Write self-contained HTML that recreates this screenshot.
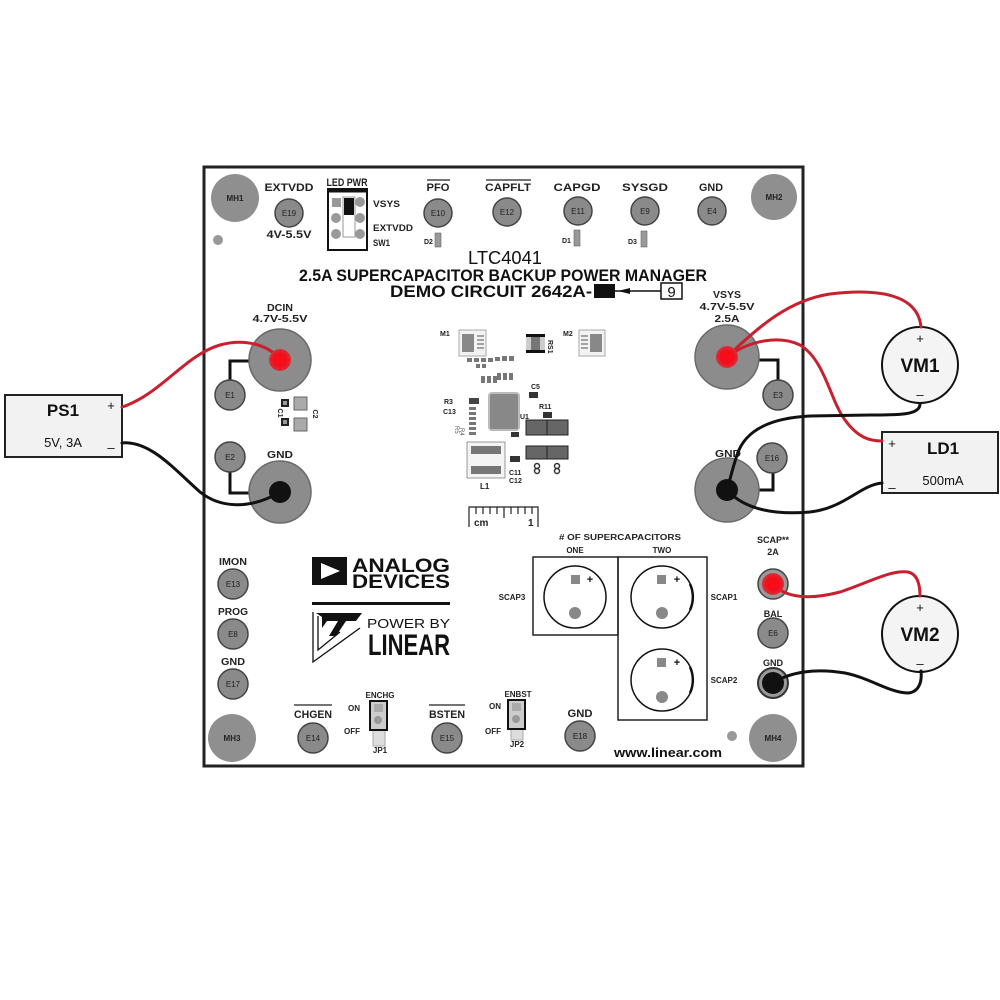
<!DOCTYPE html>
<html><head><meta charset="utf-8"><style>html,body{margin:0;padding:0;background:#fff}svg{display:block}</style></head>
<body>
<svg width="1000" height="1000" viewBox="0 0 1000 1000" xmlns="http://www.w3.org/2000/svg" font-family="'Liberation Sans', Arial, sans-serif">
<defs>
<radialGradient id="rg" cx="50%" cy="50%" r="50%"><stop offset="0" stop-color="#ff0a14"/><stop offset="0.6" stop-color="#f0101c"/><stop offset="1" stop-color="#d8303a"/></radialGradient>
</defs>
<rect width="1000" height="1000" fill="#fff"/>
<!-- board -->
<rect x="204" y="167" width="599" height="599" fill="#fff" stroke="#222" stroke-width="3"/>

<!-- mounting holes -->
<g fill="#8f8f8f">
<circle cx="235" cy="198" r="24"/><circle cx="774" cy="197" r="23"/>
<circle cx="232" cy="738" r="24"/><circle cx="773" cy="738" r="24"/>
<circle cx="218" cy="240" r="5" fill="#999"/><circle cx="732" cy="736" r="5" fill="#999"/>
</g>
<g font-size="8" font-weight="bold" fill="#222" text-anchor="middle">
<text x="235" y="201">MH1</text><text x="774" y="200">MH2</text>
<text x="232" y="741">MH3</text><text x="773" y="741">MH4</text>
</g>

<!-- top pads -->
<g fill="#8a8a8a" stroke="#444" stroke-width="1.5">
<circle cx="289" cy="213" r="14"/><circle cx="438" cy="213" r="14"/><circle cx="507" cy="212" r="14"/>
<circle cx="578" cy="211" r="14"/><circle cx="645" cy="211" r="14"/><circle cx="712" cy="211" r="14"/>
</g>
<g font-size="8" fill="#222" text-anchor="middle">
<text x="289" y="216">E19</text><text x="438" y="216">E10</text><text x="507" y="215">E12</text>
<text x="578" y="214">E11</text><text x="645" y="214">E9</text><text x="712" y="214">E4</text>
</g>
<g font-size="11" font-weight="bold" fill="#222" text-anchor="middle" lengthAdjust="spacingAndGlyphs">
<text x="289" y="191" textLength="49" lengthAdjust="spacingAndGlyphs">EXTVDD</text>
<text x="289" y="238" textLength="45" lengthAdjust="spacingAndGlyphs">4V-5.5V</text>
<text x="347" y="186" textLength="41" lengthAdjust="spacingAndGlyphs">LED PWR</text>
<text x="438" y="191" textLength="23" lengthAdjust="spacingAndGlyphs">PFO</text>
<text x="508" y="191" textLength="46" lengthAdjust="spacingAndGlyphs">CAPFLT</text>
<text x="577" y="191" textLength="47" lengthAdjust="spacingAndGlyphs">CAPGD</text>
<text x="645" y="191" textLength="46" lengthAdjust="spacingAndGlyphs">SYSGD</text>
<text x="711" y="191" textLength="24" lengthAdjust="spacingAndGlyphs">GND</text>
</g>
<line x1="427" y1="180" x2="450" y2="180" stroke="#222" stroke-width="1.2"/>
<line x1="486" y1="180" x2="531" y2="180" stroke="#222" stroke-width="1.2"/>
<!-- SW1 -->
<rect x="328" y="189" width="39" height="61" fill="#fff" stroke="#111" stroke-width="2"/>
<line x1="328" y1="191" x2="367" y2="191" stroke="#111" stroke-width="3"/>
<g fill="#999">
<rect x="332" y="198" width="9" height="9"/><circle cx="360" cy="202" r="5"/>
<circle cx="336" cy="218" r="5"/><circle cx="360" cy="218" r="5"/>
<circle cx="336" cy="234" r="5"/><circle cx="360" cy="234" r="5"/>
</g>
<rect x="343" y="197" width="12" height="40" fill="#fff" stroke="#999" stroke-width="1"/>
<rect x="344" y="198" width="10" height="17" fill="#111"/>
<g font-size="9" font-weight="bold" fill="#222">
<text x="373" y="207" textLength="27" lengthAdjust="spacingAndGlyphs">VSYS</text>
<text x="373" y="231" textLength="40" lengthAdjust="spacingAndGlyphs">EXTVDD</text>
<text x="373" y="246" textLength="17" lengthAdjust="spacingAndGlyphs">SW1</text>
<text x="424" y="244" font-size="7">D2</text>
<text x="562" y="243" font-size="7">D1</text>
<text x="628" y="244" font-size="7">D3</text>
</g>
<g fill="#999" stroke="#666" stroke-width="0.6">
<rect x="435" y="233" width="6" height="14"/><rect x="574" y="230" width="6" height="16"/><rect x="641" y="231" width="6" height="16"/>
</g>

<!-- title -->
<g font-weight="bold" fill="#111" text-anchor="middle" font-size="17">
<text x="505" y="264" textLength="74" lengthAdjust="spacingAndGlyphs" font-weight="normal" font-size="18">LTC4041</text>
<text x="503" y="281" textLength="408" lengthAdjust="spacingAndGlyphs">2.5A SUPERCAPACITOR BACKUP POWER MANAGER</text>
<text x="491" y="297" textLength="202" lengthAdjust="spacingAndGlyphs">DEMO CIRCUIT 2642A-</text>
</g>
<rect x="594" y="284" width="21" height="14" fill="#111"/>
<line x1="615" y1="291" x2="661" y2="291" stroke="#111" stroke-width="1.5"/>
<polygon points="618,291 630,288 630,294" fill="#111"/>
<rect x="661" y="283" width="21" height="16" fill="#fff" stroke="#111" stroke-width="1.5"/>
<text x="671.5" y="297" font-size="15" text-anchor="middle" fill="#111">9</text>

<!-- DCIN / left GND -->
<g font-size="10" font-weight="bold" fill="#222" text-anchor="middle">
<text x="280" y="311" textLength="26" lengthAdjust="spacingAndGlyphs">DCIN</text>
<text x="280" y="322" textLength="55" lengthAdjust="spacingAndGlyphs">4.7V-5.5V</text>
<text x="280" y="458" textLength="26" lengthAdjust="spacingAndGlyphs">GND</text>
<text x="727" y="298" textLength="28" lengthAdjust="spacingAndGlyphs">VSYS</text>
<text x="727" y="310" textLength="55" lengthAdjust="spacingAndGlyphs">4.7V-5.5V</text>
<text x="727" y="322" textLength="25" lengthAdjust="spacingAndGlyphs">2.5A</text>
<text x="728" y="457" textLength="26" lengthAdjust="spacingAndGlyphs">GND</text>
</g>
<g fill="none" stroke="#111" stroke-width="3">
<path d="M230,381 V361 H252"/><path d="M230,472 V493 H252"/>
<path d="M757,360 H778 V381"/><path d="M759,490 H773 V473"/>
</g>
<g fill="#8c8c8c" stroke="#6a6a6a" stroke-width="1.5">
<circle cx="280" cy="360" r="31"/><circle cx="280" cy="492" r="31"/>
<circle cx="727" cy="357" r="32"/><circle cx="727" cy="490" r="32"/>
</g>
<g fill="#8a8a8a" stroke="#444" stroke-width="1.5">
<circle cx="230" cy="395" r="15"/><circle cx="230" cy="457" r="15"/>
<circle cx="778" cy="395" r="15"/><circle cx="772" cy="458" r="15"/>
</g>
<g font-size="8" fill="#222" text-anchor="middle">
<text x="230" y="398">E1</text><text x="230" y="460">E2</text><text x="778" y="398">E3</text><text x="772" y="461">E16</text>
</g>
<!-- C1 C2 -->
<g>
<rect x="281" y="399" width="8" height="8" fill="#222"/><rect x="283" y="401" width="4" height="4" fill="#999"/>
<rect x="281" y="418" width="8" height="8" fill="#222"/><rect x="283" y="420" width="4" height="4" fill="#999"/>
<rect x="294" y="397" width="13" height="13" fill="#aaa" stroke="#666" stroke-width="1"/>
<rect x="294" y="418" width="13" height="13" fill="#aaa" stroke="#666" stroke-width="1"/>
<text x="278" y="413" font-size="7" font-weight="bold" fill="#222" transform="rotate(90 278 413)" text-anchor="middle">C1</text>
<text x="313" y="414" font-size="7" font-weight="bold" fill="#222" transform="rotate(90 313 414)" text-anchor="middle">C2</text>
</g>

<!-- center components -->
<g font-size="7" font-weight="bold" fill="#222">
<text x="440" y="336">M1</text><text x="563" y="336">M2</text>
<text x="444" y="404">R3</text><text x="443" y="414">C13</text>
<text x="520" y="419">U1</text><text x="539" y="409">R11</text>
<text x="531" y="389">C5</text>
<text x="509" y="475">C11</text><text x="509" y="483">C12</text>
<text x="480" y="489" font-size="8">L1</text>
<text x="548" y="340" transform="rotate(90 548 340)">RS1</text>
</g>
<g>
<rect x="459" y="330" width="27" height="26" fill="#f2f2f2" stroke="#aaa"/>
<rect x="462" y="334" width="12" height="18" fill="#888"/>
<g stroke="#888" stroke-width="1.5"><line x1="477" y1="336" x2="484" y2="336"/><line x1="477" y1="340" x2="484" y2="340"/><line x1="477" y1="344" x2="484" y2="344"/><line x1="477" y1="348" x2="484" y2="348"/></g>
<rect x="579" y="330" width="26" height="26" fill="#f2f2f2" stroke="#aaa"/>
<rect x="590" y="334" width="12" height="18" fill="#888"/>
<g stroke="#888" stroke-width="1.5"><line x1="581" y1="336" x2="588" y2="336"/><line x1="581" y1="340" x2="588" y2="340"/><line x1="581" y1="344" x2="588" y2="344"/><line x1="581" y1="348" x2="588" y2="348"/></g>
<rect x="526" y="334" width="19" height="19" fill="#ccc"/>
<rect x="526" y="334" width="19" height="3" fill="#111"/><rect x="526" y="350" width="19" height="3" fill="#111"/>
<rect x="531" y="337" width="9" height="13" fill="#777"/>
<g fill="#777"><rect x="467" y="358" width="5" height="4"/><rect x="474" y="358" width="5" height="4"/><rect x="481" y="358" width="5" height="4"/><rect x="488" y="358" width="5" height="4"/><rect x="495" y="357" width="5" height="4"/><rect x="502" y="356" width="5" height="5"/><rect x="509" y="356" width="5" height="5"/>
<rect x="476" y="364" width="4" height="4"/><rect x="482" y="364" width="4" height="4"/>
<rect x="481" y="376" width="4" height="7"/><rect x="487" y="376" width="4" height="7"/><rect x="493" y="376" width="4" height="7"/>
<rect x="497" y="373" width="4" height="7"/><rect x="503" y="373" width="4" height="7"/><rect x="509" y="373" width="4" height="7"/>
<rect x="469" y="398" width="10" height="6" fill="#444"/>
<rect x="469" y="407" width="7" height="3"/><rect x="469" y="412" width="7" height="3"/><rect x="469" y="417" width="7" height="3"/><rect x="469" y="422" width="7" height="3"/><rect x="469" y="427" width="7" height="3"/><rect x="469" y="432" width="7" height="3"/>
</g>
<g font-size="6" fill="#555"><text x="455" y="426" transform="rotate(90 455 426)">R5</text><text x="460" y="428" transform="rotate(90 460 428)">R4</text></g>
<rect x="489" y="393" width="30" height="37" rx="3" fill="#888" stroke="#bbb" stroke-width="2"/>
<rect x="529" y="392" width="9" height="6" fill="#333"/>
<rect x="543" y="412" width="9" height="6" fill="#333"/>
<rect x="511" y="432" width="8" height="5" fill="#333"/>
<rect x="510" y="456" width="10" height="6" fill="#333"/>
<rect x="526" y="420" width="21" height="15" fill="#666" stroke="#222"/><rect x="547" y="420" width="21" height="15" fill="#666" stroke="#222"/>
<rect x="526" y="446" width="21" height="13" fill="#666" stroke="#222"/><rect x="547" y="446" width="21" height="13" fill="#666" stroke="#222"/>
<circle cx="537" cy="466" r="2.5" fill="none" stroke="#333" stroke-width="1.5"/><circle cx="537" cy="471" r="2.5" fill="none" stroke="#333" stroke-width="1.5"/>
<circle cx="557" cy="466" r="2.5" fill="none" stroke="#333" stroke-width="1.5"/><circle cx="557" cy="471" r="2.5" fill="none" stroke="#333" stroke-width="1.5"/>
<rect x="467" y="442" width="38" height="36" fill="#f4f4f4" stroke="#999"/>
<rect x="471" y="446" width="30" height="8" fill="#777"/><rect x="471" y="466" width="30" height="8" fill="#777"/>
<!-- ruler -->
<g stroke="#222" stroke-width="1.2" fill="none">
<path d="M469,527 V507 H538 V527"/>
<line x1="476" y1="507" x2="476" y2="514"/><line x1="483" y1="507" x2="483" y2="514"/><line x1="490" y1="507" x2="490" y2="514"/><line x1="497" y1="507" x2="497" y2="514"/><line x1="504" y1="507" x2="504" y2="518"/><line x1="511" y1="507" x2="511" y2="514"/><line x1="518" y1="507" x2="518" y2="514"/><line x1="525" y1="507" x2="525" y2="514"/><line x1="532" y1="507" x2="532" y2="514"/>
</g>
<text x="474" y="526" font-size="10" font-weight="bold" fill="#222">cm</text>
<text x="528" y="526" font-size="10" font-weight="bold" fill="#222">1</text>
</g>

<!-- supercaps -->
<g font-size="8" font-weight="bold" fill="#222" text-anchor="middle">
<text x="620" y="540" textLength="122" lengthAdjust="spacingAndGlyphs"># OF SUPERCAPACITORS</text>
<text x="575" y="553">ONE</text><text x="662" y="553">TWO</text>
<text x="512" y="600">SCAP3</text><text x="724" y="600">SCAP1</text><text x="724" y="683">SCAP2</text>
</g>
<g fill="none" stroke="#222" stroke-width="1.5">
<rect x="533" y="557" width="85" height="78"/><rect x="618" y="557" width="89" height="163"/>
</g>
<g fill="#fff" stroke="#111" stroke-width="1.5">
<circle cx="575" cy="597" r="31"/><circle cx="662" cy="597" r="31"/><circle cx="662" cy="680" r="31"/>
</g>
<g fill="none" stroke="#111" stroke-width="2.5">
<path d="M690,584 A31,31 0 0 1 690,610"/><path d="M690,667 A31,31 0 0 1 690,693"/>
</g>
<g fill="#888">
<rect x="571" y="575" width="9" height="9"/><circle cx="575" cy="613" r="6"/>
<rect x="657" y="575" width="9" height="9"/><circle cx="662" cy="613" r="6"/>
<rect x="657" y="658" width="9" height="9"/><circle cx="662" cy="697" r="6"/>
</g>
<g font-size="11" font-weight="bold" fill="#111" text-anchor="middle">
<text x="590" y="583">+</text><text x="677" y="583">+</text><text x="677" y="666">+</text>
</g>

<!-- right edge pads -->
<g font-size="9" font-weight="bold" fill="#222" text-anchor="middle">
<text x="773" y="543">SCAP**</text><text x="773" y="555">2A</text>
<text x="773" y="617">BAL</text><text x="773" y="666">GND</text>
</g>
<circle cx="773" cy="584" r="15" fill="#999" stroke="#444" stroke-width="1.5"/>
<circle cx="773" cy="633" r="15" fill="#8a8a8a" stroke="#444" stroke-width="1.5"/>
<text x="773" y="636" font-size="8" fill="#222" text-anchor="middle">E6</text>
<circle cx="773" cy="683" r="15" fill="#999" stroke="#333" stroke-width="2"/>
<circle cx="773" cy="683" r="11" fill="#111"/>

<!-- left edge pads -->
<g font-size="10" font-weight="bold" fill="#222" text-anchor="middle">
<text x="233" y="565" textLength="28" lengthAdjust="spacingAndGlyphs">IMON</text>
<text x="233" y="615" textLength="30" lengthAdjust="spacingAndGlyphs">PROG</text>
<text x="233" y="665" textLength="24" lengthAdjust="spacingAndGlyphs">GND</text>
</g>
<g fill="#8a8a8a" stroke="#444" stroke-width="1.5">
<circle cx="233" cy="584" r="15"/><circle cx="233" cy="634" r="15"/><circle cx="233" cy="684" r="15"/>
<circle cx="313" cy="738" r="15"/><circle cx="447" cy="738" r="15"/><circle cx="580" cy="736" r="15"/>
</g>
<g font-size="8" fill="#222" text-anchor="middle">
<text x="233" y="587">E13</text><text x="233" y="637">E8</text><text x="233" y="687">E17</text>
<text x="313" y="741">E14</text><text x="447" y="741">E15</text><text x="580" y="739">E18</text>
</g>

<!-- bottom labels -->
<g font-size="11" font-weight="bold" fill="#222" text-anchor="middle">
<text x="313" y="718" textLength="38" lengthAdjust="spacingAndGlyphs">CHGEN</text>
<text x="447" y="718" textLength="36" lengthAdjust="spacingAndGlyphs">BSTEN</text>
<text x="580" y="717" textLength="25" lengthAdjust="spacingAndGlyphs">GND</text>
</g>
<line x1="294" y1="705" x2="332" y2="705" stroke="#222" stroke-width="1.2"/>
<line x1="429" y1="705" x2="465" y2="705" stroke="#222" stroke-width="1.2"/>
<g font-size="8" font-weight="bold" fill="#222">
<text x="380" y="698" text-anchor="middle">ENCHG</text>
<text x="518" y="697" text-anchor="middle">ENBST</text>
<text x="354" y="711" text-anchor="middle">ON</text><text x="352" y="734" text-anchor="middle">OFF</text>
<text x="495" y="709" text-anchor="middle">ON</text><text x="493" y="734" text-anchor="middle">OFF</text>
<text x="380" y="753" text-anchor="middle">JP1</text><text x="517" y="747" text-anchor="middle">JP2</text>
</g>
<g>
<rect x="373" y="727" width="12" height="19" fill="#ddd" stroke="#aaa"/>
<rect x="511" y="726" width="12" height="14" fill="#ddd" stroke="#aaa"/>
<rect x="370" y="701" width="17" height="29" fill="#ccc" stroke="#111" stroke-width="2"/>
<rect x="374" y="704" width="9" height="8" fill="#aaa"/><circle cx="378" cy="720" r="4" fill="#999"/>
<rect x="508" y="700" width="17" height="29" fill="#ccc" stroke="#111" stroke-width="2"/>
<rect x="512" y="703" width="9" height="8" fill="#aaa"/><circle cx="516" cy="719" r="4" fill="#999"/>
</g>
<text x="668" y="757" font-size="13" font-weight="bold" fill="#111" text-anchor="middle" textLength="108" lengthAdjust="spacingAndGlyphs">www.linear.com</text>

<!-- Analog devices logo -->
<rect x="312" y="557" width="35" height="28" fill="#111"/>
<polygon points="321,563 321,579 340,571" fill="#fff"/>
<text x="352" y="572" font-size="19" font-weight="bold" fill="#111" textLength="98" lengthAdjust="spacingAndGlyphs">ANALOG</text>
<text x="352" y="588" font-size="19" font-weight="bold" fill="#111" textLength="98" lengthAdjust="spacingAndGlyphs">DEVICES</text>
<rect x="312" y="602" width="138" height="3" fill="#111"/>
<!-- Linear logo -->
<g fill="none" stroke="#111" stroke-width="1.3">
<path d="M313,612 V662 L360,628"/>
<path d="M318,616 L318,650 L340,632"/>
</g>
<polygon points="316,613 362,613 356,621 346,621 336,636 329,636 338,621 327,621 322,628 322,617" fill="#111"/>
<text x="367" y="628" font-size="13" fill="#111" textLength="83" lengthAdjust="spacingAndGlyphs">POWER BY</text>
<text x="368" y="655" font-size="30" fill="#111" textLength="82" lengthAdjust="spacingAndGlyphs" font-weight="bold">LINEAR</text>

<!-- external instruments -->
<rect x="5" y="395" width="117" height="62" fill="#f2f2f2" stroke="#222" stroke-width="2"/>
<text x="63" y="416" font-size="17" font-weight="bold" fill="#111" text-anchor="middle">PS1</text>
<text x="63" y="447" font-size="13" fill="#111" text-anchor="middle">5V,  3A</text>
<text x="111" y="410" font-size="13" fill="#111" text-anchor="middle">+</text>
<text x="111" y="452" font-size="13" fill="#111" text-anchor="middle">–</text>

<rect x="882" y="432" width="116" height="61" fill="#f2f2f2" stroke="#222" stroke-width="2"/>
<text x="943" y="454" font-size="17" font-weight="bold" fill="#111" text-anchor="middle">LD1</text>
<text x="943" y="485" font-size="13" fill="#111" text-anchor="middle">500mA</text>
<text x="892" y="448" font-size="13" fill="#111" text-anchor="middle">+</text>
<text x="892" y="492" font-size="13" fill="#111" text-anchor="middle">–</text>

<circle cx="920" cy="365" r="38" fill="#f4f4f4" stroke="#111" stroke-width="2"/>
<text x="920" y="372" font-size="19" font-weight="bold" fill="#111" text-anchor="middle">VM1</text>
<text x="920" y="343" font-size="13" fill="#111" text-anchor="middle">+</text>
<text x="920" y="399" font-size="13" fill="#111" text-anchor="middle">–</text>

<circle cx="920" cy="634" r="38" fill="#f4f4f4" stroke="#111" stroke-width="2"/>
<text x="920" y="641" font-size="19" font-weight="bold" fill="#111" text-anchor="middle">VM2</text>
<text x="920" y="612" font-size="13" fill="#111" text-anchor="middle">+</text>
<text x="920" y="668" font-size="13" fill="#111" text-anchor="middle">–</text>

<!-- wires -->
<g fill="none" stroke-width="3" stroke-linecap="round">
<path stroke="#c8202e" d="M122,407 C160,395 185,355 220,345 C245,338 268,345 280,359"/>
<path stroke="#111" d="M122,443 C150,440 175,470 200,492 C220,508 250,510 280,492"/>
<path stroke="#c8202e" d="M727,357 C760,325 790,300 830,294 C880,288 918,295 921,327"/>
<path stroke="#c8202e" d="M727,357 C750,340 780,335 800,345 C825,360 830,400 845,420 C858,438 870,441 882,441"/>
<path stroke="#111" d="M920,404 C920,415 900,415 870,415 L810,416 C770,418 745,430 737,455 C732,470 730,480 727,490"/>
<path stroke="#111" d="M727,490 C745,510 775,515 810,512 C845,508 860,485 882,483"/>
<path stroke="#c8202e" d="M773,584 C785,598 810,600 840,592 C870,582 890,570 908,572 C918,574 920,585 920,596"/>
<path stroke="#111" d="M773,683 C790,672 815,668 845,673 C870,678 890,693 908,693 C920,692 922,680 921,671"/>
</g>
<!-- connection dots -->
<circle cx="280" cy="360" r="11" fill="url(#rg)"/>
<circle cx="727" cy="357" r="11" fill="url(#rg)"/>
<circle cx="773" cy="584" r="11" fill="url(#rg)"/>
<circle cx="280" cy="492" r="11" fill="#111"/>
<circle cx="727" cy="490" r="11" fill="#111"/>
</svg>
</body></html>
